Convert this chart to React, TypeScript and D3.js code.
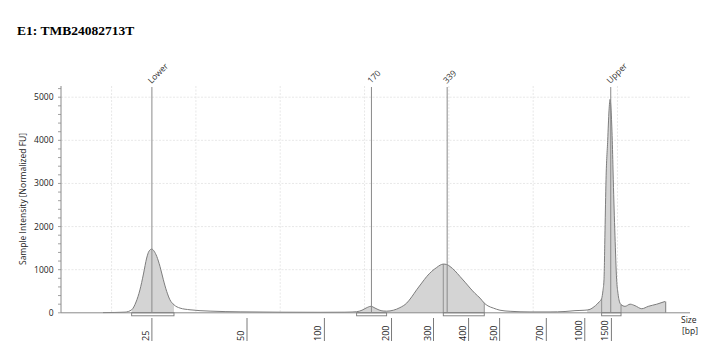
import React from "react";
import * as d3 from "d3";

const title = "E1: TMB24082713T";
const yAxisTitle = "Sample Intensity [Normalized FU]";
const yTicks = [0, 1000, 2000, 3000, 4000, 5000];
const gridTimes = [20, 25, 30, 35, 40, 45, 50];

// ladder: bp label vs migration time (s)
const sizeLabels = ["25", "50", "100", "200", "300", "400", "500", "700", "1000", "1500"];
const sizeTimes = [22.39, 28.03, 32.62, 36.6, 39.09, 41.17, 43.01, 45.78, 48.06, 49.64];

// peak markers
const markerLabels = ["Lower", "170", "339", "Upper"];
const markerTimes = [22.39, 35.41, 39.9, 49.6];

// electropherogram trace: time (s) and intensity (FU)
const traceTime = [
  19.49, 20.2, 20.8, 21.19, 21.45, 21.68, 21.89, 22.08, 22.22, 22.38, 22.52, 22.68, 22.87, 23.07,
  23.27, 23.46, 23.7, 24.06, 24.65, 25.84, 27.62, 29.99, 32.36, 33.84, 34.26, 34.53, 34.85, 35.09,
  35.38, 35.62, 35.86, 36.1, 36.31, 36.71, 37.1, 37.5, 37.8, 38.09, 38.39, 38.69, 38.98, 39.28,
  39.48, 39.67, 39.87, 40.07, 40.37, 40.66, 40.96, 41.26, 41.55, 41.85, 42.1, 42.32, 42.64, 43.03,
  43.63, 44.81, 46.0, 46.89, 47.48, 48.07, 48.37, 48.61, 48.79, 48.93, 49.06, 49.14, 49.2, 49.26,
  49.32, 49.42, 49.5, 49.56, 49.62, 49.69, 49.75, 49.85, 49.95, 50.03, 50.09, 50.21, 50.45, 50.75,
  51.04, 51.44, 51.83, 52.33, 52.82, 52.86,
];
const traceFU = [
  5, 8, 15, 70, 250, 530, 900, 1270, 1430, 1478, 1430, 1306, 1075, 766,
  494, 302, 186, 109, 70, 39, 22, 14, 12, 14, 18, 25, 60, 110,
  150, 110, 65, 42, 38, 60, 120, 225, 370, 534, 690, 842, 960, 1051,
  1105, 1130, 1120, 1074, 970, 842, 710, 573, 450, 341, 225, 160, 109, 60,
  35, 20, 20, 30, 50, 60, 80, 140, 200, 260, 330, 520, 765, 1900,
  3085, 4000, 4700, 4950, 4700, 4000, 3085, 1800, 765, 450, 300, 190, 150, 200,
  165, 95, 150, 200, 262, 0,
];

// shaded regions and integration brackets (time ranges)
const fillStarts = [21.19, 34.53, 36.31, 48.2];
const fillEnds = [23.7, 36.31, 42.1, 52.86];
const bracketStarts = [21.19, 34.53, 39.67, 49.06];
const bracketEnds = [23.7, 36.31, 42.1, 50.21];

const W = 707;
const H = 358;

export default function App() {
  const x = d3.scaleLinear().domain([17, 54.3]).range([61, 690]);
  const y = d3.scaleLinear().domain([0, 5260]).range([312.8, 86]);
  const y0 = y(0);
  const data = traceTime.map((t, i) => ({ t, v: traceFU[i] }));

  const valueAt = (t: number) => {
    const i = d3.bisector((d: any) => d.t).left(data, t);
    if (i <= 0) return data[0].v;
    if (i >= data.length) return data[data.length - 1].v;
    const a = data[i - 1];
    const b = data[i];
    if (b.t === a.t) return b.v;
    return a.v + ((b.v - a.v) * (t - a.t)) / (b.t - a.t);
  };
  const segment = (a: number, b: number) => {
    const pts = data.filter((d) => d.t > a && d.t < b);
    return [{ t: a, v: valueAt(a) }, ...pts, { t: b, v: b >= 52.86 ? 262 : valueAt(b) }];
  };

  const line = d3
    .line<any>()
    .x((d) => x(d.t))
    .y((d) => y(d.v))
    .curve(d3.curveMonotoneX);
  const area = d3
    .area<any>()
    .x((d) => x(d.t))
    .y0(y0)
    .y1((d) => y(d.v))
    .curve(d3.curveMonotoneX);

  const font = "'Open Sans', 'DejaVu Sans', sans-serif";
  const minorTicks = d3.range(0, 5201, 200);

  return (
    <svg width={W} height={H} style={{ position: "absolute", left: 0, top: 0, background: "#fff" }}>
      <text x={17} y={35} fontFamily="'Liberation Serif', serif" fontWeight="bold" fontSize={13.5} fill="#000">
        {title}
      </text>

      {/* grid */}
      {yTicks.slice(1).map((v) => (
        <line key={"hg" + v} x1={61} x2={690} y1={y(v)} y2={y(v)} stroke="#e2e2e2" strokeWidth={0.8} strokeDasharray="2,1.5" />
      ))}
      {gridTimes.map((t) => (
        <line key={"vg" + t} x1={x(t)} x2={x(t)} y1={86} y2={y0} stroke="#e2e2e2" strokeWidth={0.8} strokeDasharray="2,1.5" />
      ))}

      {/* fills */}
      {fillStarts.map((a, i) => (
        <path key={"f" + i} d={area(segment(a, fillEnds[i])) || ""} fill="#d4d4d4" stroke="none" />
      ))}

      {/* region edge lines */}
      {bracketStarts.map((a, i) =>
        i >= 2 ? (
          <g key={"re" + i}>
            <line x1={x(a)} x2={x(a)} y1={y0} y2={y(valueAt(a))} stroke="#8a8a8a" strokeWidth={0.9} />
            <line x1={x(bracketEnds[i])} x2={x(bracketEnds[i])} y1={y0} y2={y(valueAt(bracketEnds[i]))} stroke="#8a8a8a" strokeWidth={0.9} />
          </g>
        ) : null
      )}

      {/* trace */}
      <path d={line(data.slice(0, data.length - 1)) || ""} fill="none" stroke="#7d7d7d" strokeWidth={1} />
      <line x1={x(52.86)} x2={x(52.86)} y1={y(262)} y2={y0} stroke="#7d7d7d" strokeWidth={1} />

      {/* baseline */}
      <line x1={61} x2={690} y1={y0} y2={y0} stroke="#8a8a8a" strokeWidth={1} />

      {/* brackets */}
      {bracketStarts.map((a, i) => (
        <rect key={"b" + i} x={x(a)} y={y0} width={x(bracketEnds[i]) - x(a)} height={3} fill="none" stroke="#7a7a7a" strokeWidth={0.9} />
      ))}

      {/* markers */}
      {markerTimes.map((t, i) => (
        <g key={"m" + i}>
          <line x1={x(t)} x2={x(t)} y1={87} y2={y0} stroke="#8a8a8a" strokeWidth={1} />
          <text
            transform={`translate(${x(t) - 0.5},${84}) rotate(-45)`}
            fontFamily={font}
            fontSize={8.5}
            fill="#333"
          >
            {markerLabels[i]}
          </text>
        </g>
      ))}

      {/* y axis */}
      <line x1={61} x2={61} y1={86} y2={y0} stroke="#8a8a8a" strokeWidth={1} />
      {minorTicks.map((v) => (
        <line key={"mt" + v} x1={58} x2={61} y1={y(v)} y2={y(v)} stroke="#8a8a8a" strokeWidth={0.8} />
      ))}
      {yTicks.map((v) => (
        <text key={"yl" + v} x={53.5} y={y(v) + 3} textAnchor="end" fontFamily={font} fontSize={8.5} fill="#222">
          {v}
        </text>
      ))}
      <text
        transform={`translate(26,199) rotate(-90)`}
        textAnchor="middle"
        fontFamily={font}
        fontSize={8.5}
        fill="#222"
      >
        {yAxisTitle}
      </text>

      {/* x ticks */}
      {sizeTimes.map((t, i) => (
        <g key={"xt" + i}>
          <line x1={x(t)} x2={x(t)} y1={318} y2={341} stroke="#7a7a7a" strokeWidth={1} />
          <text
            transform={`translate(${x(t) - 3},${341}) rotate(-90)`}
            fontFamily={font}
            fontSize={9}
            fill="#222"
          >
            {sizeLabels[i]}
          </text>
        </g>
      ))}
      <text x={681} y={322.5} fontFamily={font} fontSize={8.5} fill="#222">Size</text>
      <text x={682} y={334} fontFamily={font} fontSize={8.5} fill="#222">[bp]</text>
    </svg>
  );
}
